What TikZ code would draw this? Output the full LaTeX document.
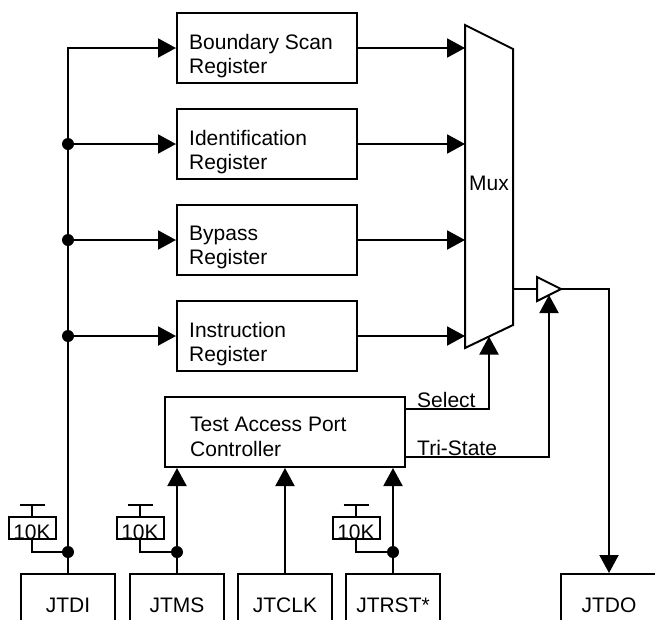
\documentclass[tikz,border=0pt]{standalone}
\usepackage{fontspec}
\setmainfont{Liberation Sans}
\usetikzlibrary{arrows.meta}
\begin{document}
\begin{tikzpicture}[x=1pt,y=-1pt,
  every node/.style={font=\fontsize{21}{24}\selectfont, inner sep=0pt},
  wire/.style={line width=2pt},
  arr/.style={wire, -{Triangle[length=18pt,width=19pt]}},
  box/.style={draw, line width=2pt},
  regbox/.style={box, minimum width=180pt, minimum height=70pt},
  regtxt/.style={align=left, anchor=north west},
  portbox/.style={box, minimum width=94pt, minimum height=62pt},
  resbox/.style={box, minimum width=47pt, text height=22pt, text depth=0pt},
  jdot/.style={fill=black}
]
\useasboundingbox (0,0) rectangle (655,619);
\clip (0,0) rectangle (655,619);

% registers
\node[regbox] (bs) at (267,48) {};
\node[regtxt] (bst) at (189,33.7) {Boundary Scan\\Register};
\node[regbox] (id) at (267,144) {};
\node[regtxt] (idt) at (189,129.7) {Identification\\Register};
\node[regbox] (bp) at (267,240) {};
\node[regtxt] (bpt) at (189,225.7) {Bypass\\Register};
\node[regbox] (ir) at (267,336) {};
\node[regtxt] (irt) at (189,321.7) {Instruction\\Register};

% TAP controller
\node[box, minimum width=240pt, minimum height=70pt] (tap) at (285,432) {};
\node[regtxt, font=\fontsize{21}{25}\selectfont] (tapt) at (190,416.7) {Test Access Port\\Controller};

% mux
\draw[box, line join=miter] (465,25) -- (513,49) -- (513,325) -- (465,348) -- cycle;
\node (mux) at (489,183) {Mux};
\coordinate (muxL) at (465,0);
\coordinate (muxo) at (513,289);
\coordinate (selend) at (489,336.5);

% tri-state buffer
\draw[box, line join=miter] (537,277) -- (561,289) -- (537,301) -- cycle;
\coordinate (bufin) at (537,289);
\coordinate (bufout) at (561,289);
\coordinate (trien) at (549,295);

% ports
\node[portbox] (jtdi) at (68,605) {JTDI};
\node[portbox] (jtms) at (177,605) {JTMS};
\node[portbox] (jtclk) at (285,605) {JTCLK};
\node[portbox] (jtrst) at (393,605) {JTRST*};
\node[box, minimum width=96pt, minimum height=62pt] (jtdo) at (609,605) {JTDO};

% pull-up resistors
\node[resbox] (r1) at (32,528) {10K};
\node[resbox] (r2) at (140,528) {10K};
\node[resbox] (r3) at (356,528) {10K};
\coordinate (t1) at (32,505);
\coordinate (t2) at (140,505);
\coordinate (t3) at (356,505);
\foreach \t/\r in {t1/r1,t2/r2,t3/r3}{
  \draw[wire] (\r.north) -- (\t);
  \draw[wire] ([xshift=-12.5pt]\t) -- ([xshift=12.5pt]\t);
}
\coordinate (j1) at (68,552);
\coordinate (j2) at (177,552);
\coordinate (j3) at (393,552);
\draw[wire] (r1.south) |- (j1);
\draw[wire] (r2.south) |- (j2);
\draw[wire] (r3.south) |- (j3);

% TDI bus
\coordinate (d1) at (68,144);
\coordinate (d2) at (68,240);
\coordinate (d3) at (68,336);
\draw[arr] (jtdi.north) |- (bs.west);
\draw[arr] (d1) -- (id.west);
\draw[arr] (d2) -- (bp.west);
\draw[arr] (d3) -- (ir.west);

% register outputs to mux
\draw[arr] (bs.east) -- (bs.east -| muxL);
\draw[arr] (id.east) -- (id.east -| muxL);
\draw[arr] (bp.east) -- (bp.east -| muxL);
\draw[arr] (ir.east) -- (ir.east -| muxL);

% inputs to TAP
\draw[arr] (jtms.north) -- (jtms.north |- tap.south);
\draw[arr] (jtclk.north) -- (jtclk.north |- tap.south);
\draw[arr] (jtrst.north) -- (jtrst.north |- tap.south);

% select and tri-state
\coordinate (tapsel) at (405,409);
\coordinate (taptri) at (405,457);
\draw[arr] (tapsel) -| (selend);
\draw[arr] (taptri) -| (trien);
\node[anchor=base west] (sellbl) at (417,407.5) {Select};
\node[anchor=base west] (trilbl) at (417,455.5) {Tri-State};

% output path
\draw[wire] (muxo) -- (bufin);
\draw[arr] (bufout) -| (jtdo.north);

% junction dots
\foreach \p in {d1,d2,d3,j1,j2,j3}{
  \fill[jdot] (\p) circle[radius=6pt];
}
\end{tikzpicture}
\end{document}
